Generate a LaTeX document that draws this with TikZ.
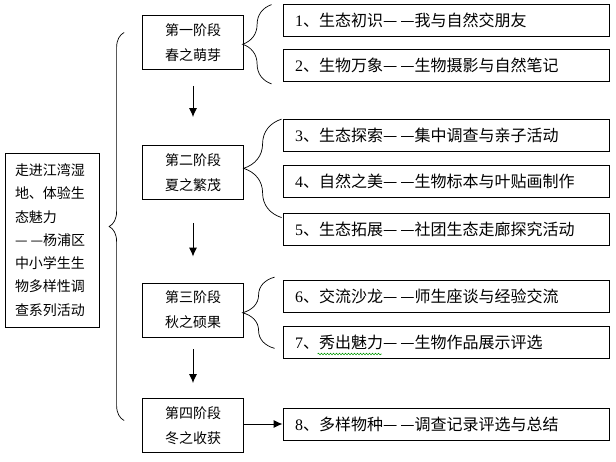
\documentclass[tikz,border=0pt]{standalone}
\usepackage{fontspec}
\setmainfont{Liberation Serif}
\newfontfamily\cjk{Noto Sans CJK SC}
\usetikzlibrary{arrows.meta,calc,decorations.pathreplacing,decorations.pathmorphing}
\newcommand{\stepnum}[1]{{\rmfamily #1}}
\newcommand{\ddash}{—\hspace{3pt}—}

\begin{document}
\begin{tikzpicture}[x=1pt,y=-1pt,
    goalbox/.style={draw,line width=0.8pt,minimum width=94pt,minimum height=174pt,
        text width=74pt,align=left,font=\cjk\fontsize{14}{23.3}\selectfont},
    stage/.style={draw,line width=0.8pt,minimum width=101pt,minimum height=54pt,
        align=center,font=\cjk\fontsize{14}{25}\selectfont},
    activity/.style={draw,line width=0.8pt,minimum width=326pt,minimum height=32pt,
        text width=302pt,align=left,font=\cjk\fontsize{16}{18}\selectfont},
    flow/.style={-{Latex[length=9pt,width=8pt]},line width=1pt},
    brc/.style={draw,line width=0.7pt,decorate,decoration={brace,amplitude=#1}},
    spellmark/.style={draw=green!60!black,line width=0.6pt,decorate,
        decoration={snake,amplitude=0.8pt,segment length=3pt}}
]
    \useasboundingbox (0,0) rectangle (616,462);

    \node[goalbox] (goal) at (52,240)
        {走进江湾湿\\地、体验生\\态魅力\\\ddash 杨浦区\\中小学生生\\物多样性调\\查系列活动};

    \node[stage] (s1) at (193,42.5) {第一阶段\\春之萌芽};
    \node[stage] (s2) at (193,172.5) {第二阶段\\夏之繁茂};
    \node[stage] (s3) at (193,310) {第三阶段\\秋之硕果};
    \node[stage] (s4) at (193,425.5) {第四阶段\\冬之收获};

    \node[activity] (r1) at (446,20) {\stepnum{1}、生态初识\ddash 我与自然交朋友};
    \node[activity] (r2) at (446,65.5) {\stepnum{2}、生物万象\ddash 生物摄影与自然笔记};
    \node[activity] (r3) at (446,135.5) {\stepnum{3}、生态探索\ddash 集中调查与亲子活动};
    \node[activity] (r4) at (446,181) {\stepnum{4}、自然之美\ddash 生物标本与叶贴画制作};
    \node[activity] (r5) at (446,229) {\stepnum{5}、生态拓展\ddash 社团生态走廊探究活动};
    \node[activity] (r6) at (446,296.5) {\stepnum{6}、交流沙龙\ddash 师生座谈与经验交流};
    \node[activity] (r7) at (446,342) {\stepnum{7}、秀出魅力\ddash 生物作品展示评选};
    \node[activity] (r8) at (446,424) {\stepnum{8}、多样物种\ddash 调查记录评选与总结};
    \draw[spellmark] ($(r7.west)+(35,12)$) -- ++(64,0);

    % stages in sequence
    \draw[flow,shorten <=16pt,shorten >=28pt] (s1) -- (s2);
    \draw[flow,shorten <=23pt,shorten >=26pt] (s2) -- (s3);
    \draw[flow,shorten <=12pt,shorten >=15pt] (s3) -- (s4);
    \draw[flow] (s4.east |- r8.west) -- (r8.west);

    % braces
    \draw[brc=15pt] ($(s4.west)+(-18,-5)$) -- ($(s1.west)+(-18,-10)$);
    \draw[brc=29pt] ($(r2.south west)+(-11,2)$) -- ($(r1.north west)+(-11,1)$);
    \draw[brc=38pt] ($(r5.north west)+(-1,5)$) -- ($(r3.north west)+(-1,0)$);
    \draw[brc=32pt] ($(r7.south west)+(-8,-10)$) -- ($(r6.north west)+(-8,-3)$);
\end{tikzpicture}
\end{document}
